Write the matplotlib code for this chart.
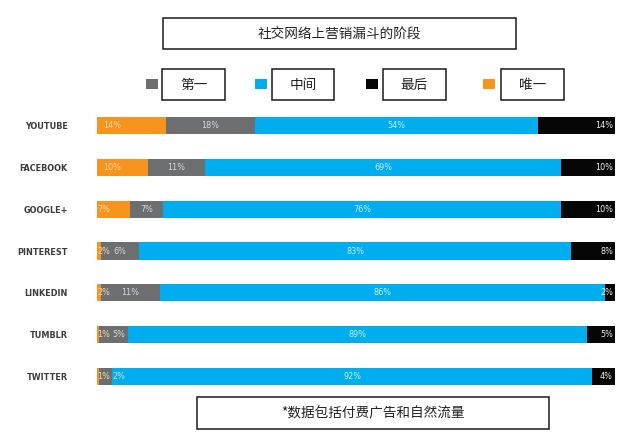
import matplotlib
matplotlib.use('Agg')
import matplotlib.pyplot as plt
from matplotlib.patches import Rectangle
import numpy as np

plt.rcParams['font.family'] = ['Noto Sans CJK SC', 'DejaVu Sans']

platforms = ["YOUTUBE", "FACEBOOK", "GOOGLE+", "PINTEREST", "LINKEDIN", "TUMBLR", "TWITTER"]

# printed labels (percent)
only_lab = [14, 10, 7, 2, 2, 1, 1]        # 唯一
first_lab = [18, 11, 7, 6, 11, 5, 2]      # 第一
middle_lab = [54, 69, 76, 83, 86, 89, 92]  # 中间
last_lab = [14, 10, 10, 8, 2, 5, 4]       # 最后

# segment widths as drawn in the picture (percent of bar)
only_w = [13.3, 9.8, 6.4, 0.7, 0.8, 0.4, 0.4]
first_w = [17.2, 11.0, 6.4, 7.5, 11.4, 5.6, 2.5]
middle_w = [54.6, 68.8, 76.8, 83.4, 85.9, 88.6, 92.7]
last_w = [14.9, 10.4, 10.4, 8.4, 1.9, 5.4, 4.4]

title = "社交网络上营销漏斗的阶段"
legend_names = ["第一", "中间", "最后", "唯一"]
footnote = "*数据包括付费广告和自然流量"

c_orange = '#F7941D'
c_gray = '#6D6E70'
c_blue = '#00AEEF'
c_black = '#050505'

W, H = 640, 442
fig = plt.figure(figsize=(6.4, 4.42), dpi=100)
fig.patch.set_facecolor('white')


def fx(x):
    return x / W


def fy(y):
    return 1 - y / H


def box(x0, y0, x1, y1, text, size=9.8):
    fig.add_artist(Rectangle((fx(x0), fy(y1)), fx(x1 - x0), (y1 - y0) / H,
                             transform=fig.transFigure, fill=False,
                             edgecolor='#1a1a1a', lw=1.1))
    fig.text(fx((x0 + x1) / 2), fy((y0 + y1) / 2), text, ha='center', va='center',
             fontsize=size, color='#222222')


# title box
box(163, 18, 516, 49, title)

# legend
leg_items = [(146, 162, 225, c_gray), (255, 272, 334, c_blue),
             (366, 383, 446, c_black), (483, 501, 564, c_orange)]
for (sx, bx0, bx1, col), name in zip(leg_items, legend_names):
    fig.add_artist(Rectangle((fx(sx), fy(89)), fx(12), 10 / H,
                             transform=fig.transFigure, facecolor=col, edgecolor='none'))
    box(bx0, 69, bx1, 100, name)

# footnote box
box(197, 397, 549, 429, footnote)

# bars
ax = fig.add_axes([fx(97), fy(397), fx(518), 292 / H])
widths = np.array([only_w, first_w, middle_w, last_w])
labels = np.array([only_lab, first_lab, middle_lab, last_lab])
y = np.arange(len(platforms))
colors = [c_orange, c_gray, c_blue, c_black]
text_colors = ['#FDD9A8', '#D8D8D8', '#C6EEFC', '#EDEDED']
lab_font = dict(fontsize=6.5, family='DejaVu Sans', fontstretch='condensed', va='center')
left = np.zeros(len(platforms))
for k in range(4):
    ax.barh(y, widths[k], left=left, height=0.41, color=colors[k], edgecolor='none')
    for i in range(len(platforms)):
        lab = "%d%%" % labels[k, i]
        w = widths[k, i]
        if k == 0:
            xpos = left[i] + (1.2 if w > 8 else 0.1)
            ax.text(xpos, y[i], lab, ha='left', color=text_colors[k], **lab_font)
        elif k == 3:
            ax.text(left[i] + w - 0.4, y[i], lab, ha='right', color=text_colors[k], **lab_font)
        elif k == 1 and w < 6:
            ax.text(3.0, y[i], lab, ha='left', color=text_colors[k], **lab_font)
        else:
            ax.text(left[i] + w / 2, y[i], lab, ha='center', color=text_colors[k], **lab_font)
    left += widths[k]

ax.set_xlim(0, 100)
ax.set_ylim(len(platforms) - 0.5, -0.5)
ax.set_yticks(y)
ax.set_yticklabels(platforms, fontsize=6.5, color='#3d3d3d', family='DejaVu Sans',
                   fontweight='bold', fontstretch='condensed')
ax.tick_params(axis='y', length=0, pad=21)
ax.set_xticks([])
for s in ax.spines.values():
    s.set_visible(False)

fig.savefig('out.png', dpi=100, facecolor='white')
